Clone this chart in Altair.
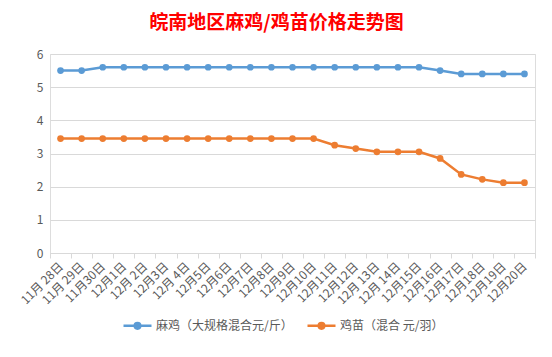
import altair as alt
import pandas as pd

dates = ["11月 28日", "11月 29日", "11月30日", "12月1日", "12月 2日", "12月3日", "12月 4日",
         "12月5日", "12月6日", "12月7日", "12月8日", "12月9日", "12月10日", "12月11日",
         "12月12日", "12月 13日", "12月 14日", "12月15日", "12月16日", "12月17日", "12月18日",
         "12月19日", "12月20日"]
chicken = [5.5, 5.5, 5.6, 5.6, 5.6, 5.6, 5.6, 5.6, 5.6, 5.6, 5.6, 5.6, 5.6, 5.6, 5.6, 5.6,
           5.6, 5.6, 5.5, 5.4, 5.4, 5.4, 5.4]
chick = [3.45, 3.45, 3.45, 3.45, 3.45, 3.45, 3.45, 3.45, 3.45, 3.45, 3.45, 3.45, 3.45, 3.25,
         3.15, 3.05, 3.05, 3.05, 2.85, 2.37, 2.22, 2.12, 2.12]
series_names = ["麻鸡（大规格混合元/斤）", "鸡苗（混合 元/羽）"]
colors = ["#5B9BD5", "#ED7D31"]

rows = []
for i, d in enumerate(dates):
    rows.append({"date": d, "series": series_names[0], "value": chicken[i]})
    rows.append({"date": d, "series": series_names[1], "value": chick[i]})
df = pd.DataFrame(rows)

FONT = "Noto Sans CJK SC"
GRAY = "#595959"
LINEC = "#D9D9D9"

legend_path = ("M-1,0L1,0 M-0.2,0 A0.2,0.2 0 1,0 0.2,0 A0.2,0.2 0 1,0 -0.2,0 "
               "M-0.08,0 A0.08,0.08 0 1,0 0.08,0 A0.08,0.08 0 1,0 -0.08,0")

x = alt.X("date:N", sort=dates, title=None,
          scale=alt.Scale(paddingInner=0, paddingOuter=0),
          axis=alt.Axis(labelAngle=-45, labelFontSize=12, labelColor=GRAY, labelFont=FONT,
                        domainColor=LINEC, tickColor=LINEC, tickSize=5, tickBand="extent",
                        labelPadding=6, grid=False, labelAlign="right", labelBaseline="middle"))
y = alt.Y("value:Q", title=None,
          scale=alt.Scale(domain=[0, 6], nice=False),
          axis=alt.Axis(values=[0, 1, 2, 3, 4, 5, 6], labelFontSize=12, labelColor=GRAY,
                        labelFont=FONT, domain=False, ticks=False, labelPadding=7,
                        gridColor=LINEC, gridWidth=1))
color = alt.Color("series:N", sort=series_names,
                  scale=alt.Scale(domain=series_names, range=colors),
                  legend=alt.Legend(title=None, orient="none", direction="horizontal",
                                    legendX=72, legendY=256, symbolType=legend_path,
                                    symbolSize=784, symbolStrokeWidth=2.5,
                                    labelFont=FONT, labelFontSize=12, labelColor=GRAY,
                                    labelOffset=3, columnPadding=9, padding=0))

base = alt.Chart(df)
line = base.mark_line(strokeWidth=2.5).encode(x=x, y=y, color=color)
pts = base.mark_point(filled=True, size=45, opacity=1).encode(x=x, y=y, color=color)

chart = alt.layer(pts, line).properties(
    width=485, height=199,
    title=alt.TitleParams("皖南地区麻鸡/鸡苗价格走势图", font=FONT, fontSize=19,
                          fontWeight="bold", color="#FF0000", anchor="middle",
                          dx=-16, offset=15),
    autosize=alt.AutoSizeParams(type="none"),
    padding={"left": 50, "top": 54, "right": 17, "bottom": 104},
).configure_view(stroke=None).configure(background="white")

chart.save("out.html", embed_options={"renderer": "svg", "actions": False})
